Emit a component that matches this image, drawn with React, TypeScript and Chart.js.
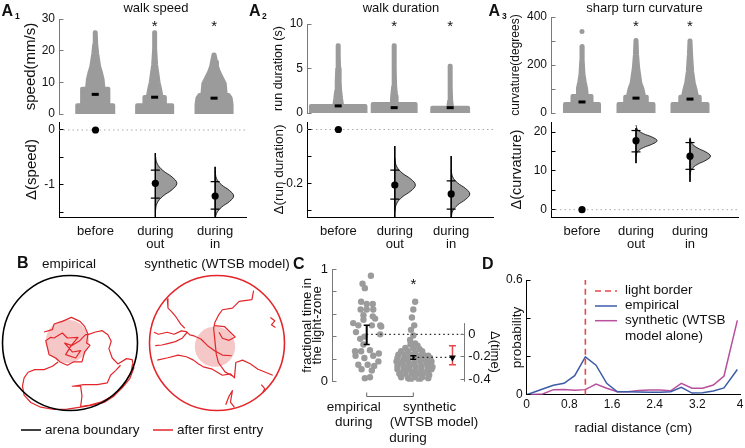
import React, { useEffect, useRef } from 'react';
import { Chart, registerables } from 'chart.js';

Chart.register(...registerables);

const FONT = "'Liberation Sans', Arial, Helvetica, sans-serif";
Chart.defaults.font.family = FONT;
Chart.defaults.color = '#111';

// ======================= DATA =======================
const CAT_LABELS = [['before'], ['during', 'out'], ['during', 'in']];

// A1 walk speed – swarm silhouettes: value vs half-width (category units)
const A1_BEFORE_V = [0, 2.8, 2.8, 8, 8, 11, 13, 15, 17, 19, 22, 25.8];
const A1_BEFORE_W = [0.303, 0.303, 0.221, 0.221, 0.139, 0.123, 0.098, 0.066, 0.049, 0.033, 0.016, 0.008];
const A1_OUT_V = [0, 2.8, 2.8, 5.4, 5.4, 8, 10, 12.3, 15.5, 20.7, 25.8];
const A1_OUT_W = [0.295, 0.295, 0.172, 0.172, 0.115, 0.09, 0.066, 0.049, 0.025, 0.008, 0.008];
const A1_IN_V = [0, 3, 5, 6, 6, 9.6, 11.5, 13.3, 15, 16.5, 18.8];
const A1_IN_W = [0.295, 0.295, 0.28, 0.246, 0.197, 0.18, 0.13, 0.082, 0.049, 0.033, 0.008];
const A1_MEDIANS = [6.2, 5.3, 5.0];
const A1_DELTA = [0, -0.97, -1.2];
const A1_CI_HI = [-0.73, -0.94];
const A1_CI_LO = [-1.24, -1.44];
const A1_DIST_TOP = [-0.42, -0.67];
const A1_DIST_BOT = [-1.58, -1.58];
const A1_VIOL_SPAN = [0.52, 0.45];
const A1_VIOL_W = [0.36, 0.31];

// A2 walk duration
const A2_BEFORE_V = [0, 0.8, 0.8, 1.6, 2.5, 3.5, 5, 6.5, 7.6];
const A2_BEFORE_W = [0.487, 0.487, 0.07, 0.052, 0.035, 0.026, 0.017, 0.009, 0.009];
const A2_OUT_V = [0, 1.0, 1.0, 1.9, 3, 5, 7.6];
const A2_OUT_W = [0.383, 0.383, 0.043, 0.035, 0.017, 0.009, 0.009];
const A2_IN_V = [0, 0.6, 0.6, 1.4, 3, 5.3];
const A2_IN_W = [0.32, 0.32, 0.035, 0.017, 0.009, 0.009];
const A2_OUTLIER_CAT = [2];
const A2_OUTLIER_VAL = [10.4];
const A2_MEDIANS = [0.8, 0.6, 0.6];
const A2_DELTA = [0, -0.205, -0.238];
const A2_CI_HI = [-0.15, -0.19];
const A2_CI_LO = [-0.257, -0.294];
const A2_DIST_TOP = [-0.061, -0.098];
const A2_DIST_BOT = [-0.323, -0.323];
const A2_VIOL_SPAN = [0.1, 0.09];
const A2_VIOL_W = [0.365, 0.33];

// A3 sharp turn curvature
const A3_BEFORE_V = [0, 37, 37, 71, 71, 104, 130, 160, 220, 278];
const A3_BEFORE_W = [0.315, 0.315, 0.176, 0.176, 0.09, 0.074, 0.05, 0.028, 0.012, 0.009];
const A3_OUT_V = [0, 37, 37, 68, 68, 100, 125, 187, 243, 304];
const A3_OUT_W = [0.324, 0.324, 0.2, 0.2, 0.15, 0.12, 0.08, 0.04, 0.02, 0.009];
const A3_IN_V = [0, 37, 37, 68, 68, 100, 125, 173, 243, 302];
const A3_IN_W = [0.324, 0.324, 0.18, 0.18, 0.13, 0.1, 0.07, 0.04, 0.02, 0.009];
const A3_OUTLIER_CAT = [1];
const A3_OUTLIER_VAL = [340];
const A3_MEDIANS = [46, 62, 58];
const A3_DELTA = [0, 17.8, 13.8];
const A3_CI_HI = [20.4, 17.3];
const A3_CI_LO = [14.9, 10.4];
const A3_DIST_TOP = [21, 18.3];
const A3_DIST_BOT = [12, 7.2];
const A3_VIOL_SPAN = [4, 4.8];
const A3_VIOL_W = [0.39, 0.38];

// violin (bootstrap distribution) outline template: relative position / relative width
const VIOL_T = [-1, -0.7, -0.45, -0.22, 0, 0.22, 0.45, 0.7, 1];
const VIOL_SHAPE = [0, 0.08, 0.35, 0.78, 1, 0.78, 0.35, 0.08, 0];

// B trajectories (arena picture frame)
const B_EMP_ARENA = [208, 205, 203]; // cx, cy, r
const B_EMP_ZONE = [200, 200, 65];
const B_EMP_PATHS = [
  [[130, 172], [155, 165], [160, 148], [185, 140], [212, 128], [238, 140], [252, 155], [262, 178], [258, 205], [268, 212], [252, 232], [244, 262], [218, 262], [200, 272], [178, 262], [165, 250], [145, 240], [140, 218], [135, 198], [150, 188], [160, 190], [185, 175], [200, 190], [232, 188], [212, 212], [192, 205], [215, 232], [240, 228], [225, 250], [195, 240], [210, 215], [235, 200], [255, 180], [262, 180]],
  [[262, 180], [285, 172], [305, 168], [322, 180], [332, 200], [325, 222], [335, 250], [352, 268], [378, 252], [395, 255], [400, 280], [388, 312], [365, 340], [335, 365], [300, 383], [268, 392], [240, 396], [244, 365], [240, 335], [215, 335], [250, 330], [290, 330], [320, 325], [330, 302], [345, 288], [360, 272]],
  [[172, 262], [155, 275], [130, 285], [102, 285], [82, 293], [70, 310], [65, 335], [70, 362], [90, 384], [120, 398], [160, 405], [200, 404], [240, 398], [275, 392], [310, 384], [340, 365], [362, 342], [378, 318], [392, 292], [396, 268]],
];
const B_SYN_ARENA = [246, 204, 201];
const B_SYN_ZONE = [240, 215, 60];
const B_SYN_PATHS = [
  [[98, 72], [100, 100], [112, 112], [125, 128], [138, 148], [150, 160]],
  [[58, 172], [72, 178], [98, 172], [118, 178], [140, 168], [155, 170], [165, 180], [178, 183], [198, 192], [218, 212], [240, 228], [262, 240], [290, 242]],
  [[62, 212], [82, 210], [102, 205], [122, 200], [142, 190], [157, 172]],
  [[355, 48], [350, 75], [312, 80], [292, 100], [262, 105], [250, 122], [240, 142], [236, 160], [240, 200], [244, 238], [250, 262], [270, 290], [292, 302]],
  [[238, 152], [268, 155], [300, 186], [282, 196], [262, 190], [252, 172]],
  [[68, 255], [100, 248], [130, 240], [155, 245], [176, 255], [190, 266], [205, 275], [232, 282], [262, 300], [286, 296], [298, 308], [302, 262], [322, 255], [345, 266], [368, 282], [392, 292], [412, 300]],
  [[405, 128], [418, 138], [408, 150], [420, 158]],
  [[272, 388], [282, 362], [292, 346], [286, 380], [298, 396]],
  [[378, 328], [388, 340], [382, 352]],
];

// C fractional time in light zone
const C_EMP_VAL = [0.94, 0.87, 0.83, 0.71, 0.69, 0.69, 0.64, 0.64, 0.64, 0.59, 0.58, 0.56, 0.52, 0.55, 0.5, 0.5, 0.5, 0.44, 0.42, 0.38, 0.4, 0.33, 0.27, 0.27, 0.28, 0.25, 0.23, 0.21, 0.23, 0.18, 0.15, 0.15, 0.14, 0.11, 0.1, 0.04, 0.03, 0.49];
const C_EMP_JIT = [0.09, -0.09, -0.04, -0.12, 0, 0.13, -0.13, 0, 0.14, -0.07, 0.13, 0.18, -0.29, -0.07, -0.18, 0.11, 0.29, -0.23, 0.29, -0.14, -0.05, -0.07, -0.25, -0.12, 0.07, 0.26, -0.24, -0.05, 0.14, 0.25, -0.18, 0.02, 0.16, -0.11, 0.11, 0.07, -0.04, 0.31];
const C_SYN_VAL = [0.71, 0.64, 0.57, 0.5, 0.46, 0.41, 0.37, 0.34,
  0.33, 0.32, 0.3, 0.3, 0.29, 0.27, 0.27, 0.26, 0.27,
  0.24, 0.24, 0.24, 0.23, 0.24, 0.23,
  0.21, 0.2, 0.21, 0.21, 0.2, 0.21,
  0.18, 0.17, 0.18, 0.17, 0.18, 0.17, 0.18,
  0.14, 0.14, 0.14, 0.14, 0.14, 0.14, 0.13,
  0.11, 0.1, 0.11, 0.1, 0.11, 0.1, 0.11,
  0.07, 0.07, 0.07, 0.07, 0.07, 0.06,
  0.04, 0.03, 0.04, 0.04, 0.03,
  0.01, 0.01];
const C_SYN_JIT = [0.04, 0, -0.03, 0.02, -0.05, 0, -0.07, 0.04,
  -0.06, 0.09, -0.17, 0, 0.13, -0.26, -0.11, 0.04, 0.19,
  -0.32, -0.19, -0.06, 0.09, 0.21, 0.32,
  -0.34, -0.21, -0.11, 0.13, 0.26, 0.36,
  -0.36, -0.24, -0.11, 0.02, 0.15, 0.28, 0.39,
  -0.34, -0.21, -0.09, 0.04, 0.17, 0.3, 0.41,
  -0.34, -0.21, -0.09, 0.04, 0.17, 0.3, 0.39,
  -0.3, -0.17, -0.04, 0.09, 0.21, 0.34,
  -0.26, -0.11, 0.04, 0.19, 0.32,
  -0.06, 0.13];
const C_MEANS = [0.42, 0.215];
const C_CI_LO = [0.33, 0.2];
const C_CI_HI = [0.5, 0.23];
const C_DELTA = -0.205;
const C_DELTA_CI = [-0.1, -0.27];

// D radial distribution
const D_X = [0, 0.3, 0.5, 0.7, 0.9, 1.1, 1.3, 1.5, 1.7, 1.9, 2.1, 2.3, 2.5, 2.7, 2.9, 3.1, 3.3, 3.5, 3.7, 3.95];
const D_EMPIRICAL = [0.0, 0.03, 0.05, 0.06, 0.1, 0.198, 0.155, 0.06, 0.016, 0.016, 0.014, 0.013, 0.013, 0.016, 0.039, 0.009, 0.011, 0.02, 0.036, 0.132];
const D_SYNTHETIC = [0.0, 0.004, 0.027, 0.028, 0.024, 0.027, 0.056, 0.034, 0.016, 0.016, 0.022, 0.025, 0.025, 0.021, 0.06, 0.034, 0.034, 0.051, 0.098, 0.389];
const D_LIGHT_BORDER = 1.1;
const D_X_TICKS = [0, 0.8, 1.6, 2.4, 3.2, 4];

// ======================= STYLE / HELPERS =======================
const GRAY = '#9b9b9b';
const AXG = '#7a7a7a';
const RED = '#e3262b';
const DRED = '#e8474c';
const BLUE = '#3d5ca8';
const MAGENTA = '#b8509e';

type P = { x: number; y: number };
const pt = (x: number, y: number): P => ({ x, y });

function outline(cat: number, v: number[], w: number[]): P[] {
  const L = v.map((val, i) => pt(cat - w[i], val));
  const R = v.map((val, i) => pt(cat + w[i], val)).reverse();
  return L.concat(R);
}
function violin(cat: number, mean: number, span: number, width: number): P[] {
  return VIOL_T.map((t, k) => pt(cat + width * VIOL_SHAPE[k], mean - t * span));
}

function base(pad: any) {
  return {
    animation: false,
    responsive: false,
    maintainAspectRatio: false,
    events: [],
    layout: { padding: pad },
  };
}

function yAxis(o: any) {
  return {
    type: 'linear',
    position: o.position || 'left',
    min: o.min,
    max: o.max,
    afterBuildTicks: (s: any) => {
      s.ticks = o.ticks.map((v: number) => ({ value: v }));
    },
    afterFit: (s: any) => {
      s.width = o.width;
      s.paddingTop = 0; s.paddingBottom = 0; s.paddingLeft = 0; s.paddingRight = 0;
    },
    grid: { display: false, drawTicks: false },
    border: { display: o.border !== false, color: o.color, width: 1 },
    ticks: {
      padding: 4,
      autoSkip: false,
      color: '#111',
      font: { size: o.tickSize || 12 },
      callback: (v: number) => (o.labels.includes(v) ? String(v) : ''),
    },
    title: o.title
      ? { display: true, text: o.title, color: '#111', font: { size: o.titleSize, lineHeight: o.titleLH || 1.2 }, padding: { top: o.titlePad, bottom: 0 } }
      : { display: false },
  };
}

function inTicks(axes: any[]) {
  return {
    id: 'inTicks',
    afterDatasetsDraw(chart: any) {
      const ctx = chart.ctx;
      const ca = chart.chartArea;
      axes.forEach((a) => {
        const s = chart.scales[a.id];
        if (!s) return;
        const x0 = Math.floor(a.side === 'right' ? ca.right : ca.left) + 0.5;
        const dir = a.side === 'right' ? -1 : 1;
        ctx.save();
        ctx.strokeStyle = a.color;
        ctx.lineWidth = 1;
        if (a.line) {
          ctx.beginPath();
          ctx.moveTo(x0, s.getPixelForValue(a.line[0]));
          ctx.lineTo(x0, s.getPixelForValue(a.line[1]));
          ctx.stroke();
        }
        s.ticks.forEach((t: any) => {
          const y = Math.floor(s.getPixelForValue(t.value)) + 0.5;
          ctx.beginPath();
          ctx.moveTo(x0, y);
          ctx.lineTo(x0 + dir * (a.len || 4), y);
          ctx.stroke();
        });
        ctx.restore();
      });
    },
  };
}

function stars(items: { x: number; y: number }[], size = 15) {
  return {
    id: 'stars',
    afterDraw(chart: any) {
      const ctx = chart.ctx;
      ctx.save();
      ctx.fillStyle = '#111';
      ctx.font = `${size}px ${FONT}`;
      ctx.textAlign = 'center';
      ctx.textBaseline = 'middle';
      items.forEach((it) => {
        const px = chart.scales.x.getPixelForValue(it.x);
        const py = chart.scales.y.getPixelForValue(it.y);
        ctx.fillText('*', px, py + 0.22 * size);
      });
      ctx.restore();
    },
  };
}

function topConfig(p: any) {
  const datasets: any[] = [
    {
      data: p.medians.map((m: number, i: number) => pt(i + 1, m)),
      showLine: false, pointStyle: 'line', pointRadius: 3.5, pointBorderWidth: 3,
      pointBorderColor: '#000', pointBackgroundColor: '#000',
    },
  ];
  if (p.outCat) {
    datasets.push({
      data: p.outCat.map((c: number, i: number) => pt(c, p.outVal[i])),
      showLine: false, pointRadius: 2.5, pointBorderWidth: 0, pointBackgroundColor: GRAY,
    });
  }
  p.profiles.forEach((pr: any, i: number) =>
    datasets.push({
      data: outline(i + 1, pr[0], pr[1]),
      fill: 'origin', backgroundColor: GRAY, borderColor: GRAY, borderWidth: 4,
      borderJoinStyle: 'round', borderCapStyle: 'round', pointRadius: 0, tension: 0,
    })
  );
  return {
    type: 'line',
    data: { datasets },
    options: {
      ...base({ top: p.padTop, bottom: p.padBottom, left: 0, right: p.padRight }),
      plugins: { legend: { display: false }, tooltip: { enabled: false } },
      scales: {
        x: { type: 'linear', display: false, min: p.xMin, max: p.xMax },
        y: yAxis({ min: p.yMin, max: p.yMax, ticks: p.ticks, labels: p.labels, width: p.yWidth, color: AXG, title: p.title, titleSize: p.titleSize, titlePad: p.titlePad }),
      },
    },
    plugins: [inTicks([{ id: 'y', side: 'left', color: AXG }]), stars(p.stars)],
  };
}

function bottomConfig(p: any) {
  const datasets: any[] = [];
  datasets.push({
    data: p.delta.map((d: number, i: number) => pt(i + 1, d)),
    showLine: false, pointRadius: 3.6, pointBackgroundColor: '#000', pointBorderColor: '#000', pointBorderWidth: 0,
  });
  const ci: P[] = [];
  p.ciHi.forEach((h: number, i: number) => { ci.push(pt(i + 2, h)); ci.push(pt(i + 2, p.ciLo[i])); });
  datasets.push({ data: ci, showLine: false, pointStyle: 'line', pointRadius: 4.5, pointBorderWidth: 1.2, pointBorderColor: '#000' });
  p.distTop.forEach((t: number, i: number) => {
    datasets.push({ data: [pt(i + 2, t), pt(i + 2, p.distBot[i])], borderColor: '#000', borderWidth: 1, pointRadius: 0 });
  });
  p.violSpan.forEach((s: number, i: number) => {
    datasets.push({
      data: violin(i + 2, p.delta[i + 1], s, p.violW[i]),
      fill: 'shape', backgroundColor: GRAY, borderColor: '#000', borderWidth: 0.8, pointRadius: 0, tension: 0.4,
    });
  });
  datasets.push({
    data: [pt(p.xMin, 0), pt(p.xMax, 0)],
    borderColor: '#aaa', borderWidth: 1, borderDash: [1.5, 3], pointRadius: 0,
  });
  return {
    type: 'line',
    data: { datasets },
    options: {
      ...base({ top: p.padTop, bottom: 0, left: 0, right: p.padRight }),
      plugins: { legend: { display: false }, tooltip: { enabled: false } },
      scales: {
        x: {
          type: 'linear', min: p.xMin, max: p.xMax,
          afterBuildTicks: (s: any) => { s.ticks = [1, 2, 3].map((v) => ({ value: v })); },
          afterFit: (s: any) => { s.height = 37; s.paddingLeft = 0; s.paddingRight = 0; s.paddingTop = 0; s.paddingBottom = 0; },
          grid: { display: false, drawTicks: false },
          border: { display: true, color: '#000', width: 1 },
          ticks: { padding: 8, autoSkip: false, maxRotation: 0, color: '#111', font: { size: 13, lineHeight: 1.0 }, callback: (v: number) => CAT_LABELS[v - 1] },
        },
        y: yAxis({ min: p.yMin, max: p.yMax, ticks: p.ticks, labels: p.labels, width: p.yWidth, color: '#000', title: p.title, titleSize: p.titleSize, titlePad: p.titlePad }),
      },
    },
    plugins: [inTicks([{ id: 'y', side: 'left', color: '#000' }])],
  };
}

function arenaPlugin(arena: number[], zone: number[], ring: string) {
  return {
    id: 'arena',
    beforeDatasetsDraw(chart: any) {
      const { x, y } = chart.scales;
      const ctx = chart.ctx;
      const zr = Math.abs(x.getPixelForValue(zone[0] + zone[2]) - x.getPixelForValue(zone[0]));
      ctx.save();
      ctx.fillStyle = '#f6c7c7';
      ctx.beginPath();
      ctx.arc(x.getPixelForValue(zone[0]), y.getPixelForValue(zone[1]), zr, 0, Math.PI * 2);
      ctx.fill();
      ctx.restore();
    },
    afterDatasetsDraw(chart: any) {
      const { x, y } = chart.scales;
      const ctx = chart.ctx;
      const r = Math.abs(x.getPixelForValue(arena[0] + arena[2]) - x.getPixelForValue(arena[0]));
      ctx.save();
      ctx.strokeStyle = ring;
      ctx.lineWidth = 1.6;
      ctx.beginPath();
      ctx.arc(x.getPixelForValue(arena[0]), y.getPixelForValue(arena[1]), r, 0, Math.PI * 2);
      ctx.stroke();
      ctx.restore();
    },
  };
}

function arenaConfig(paths: number[][][], arena: number[], zone: number[], ring: string, px: number) {
  const half = (arena[2] * (px / 2)) / 67.5;
  return {
    type: 'line',
    data: {
      datasets: paths.map((path) => ({
        data: path.map(([a, b]) => pt(a, b)),
        borderColor: RED, borderWidth: 1.2, pointRadius: 0, tension: 0, borderJoinStyle: 'round',
      })),
    },
    options: {
      ...base(0),
      plugins: { legend: { display: false }, tooltip: { enabled: false } },
      scales: {
        x: { type: 'linear', display: false, min: arena[0] - half, max: arena[0] + half },
        y: { type: 'linear', display: false, reverse: true, min: arena[1] - half, max: arena[1] + half },
      },
    },
    plugins: [arenaPlugin(arena, zone, ring)],
  };
}

const C_XMIN = 0.255;
const C_XMAX = 3.094;
const C_DELTA_POS = 2.84;

function bracketPlugin() {
  return {
    id: 'bracket',
    afterDraw(chart: any) {
      const ctx = chart.ctx;
      const x = chart.scales.x;
      const yb = Math.floor(chart.chartArea.bottom + 15) + 0.5;
      const x1 = x.getPixelForValue(1);
      const x2 = x.getPixelForValue(2);
      ctx.save();
      ctx.strokeStyle = '#666';
      ctx.lineWidth = 1;
      ctx.beginPath();
      ctx.moveTo(x1, yb - 4);
      ctx.lineTo(x1, yb);
      ctx.lineTo(x2, yb);
      ctx.lineTo(x2, yb - 4);
      ctx.stroke();
      ctx.restore();
    },
  };
}

function cConfig() {
  const caps: P[] = [];
  C_MEANS.forEach((_m, i) => { caps.push(pt(i + 1, C_CI_LO[i])); caps.push(pt(i + 1, C_CI_HI[i])); });
  const datasets: any[] = [
    { data: [pt(C_DELTA_POS, C_DELTA)], yAxisID: 'y2', showLine: false, pointStyle: 'triangle', rotation: 180, pointRadius: 4, pointBackgroundColor: '#000', pointBorderColor: '#000', pointBorderWidth: 0 },
    { data: C_DELTA_CI.map((v) => pt(C_DELTA_POS, v)), yAxisID: 'y2', showLine: false, pointStyle: 'line', pointRadius: 3.5, pointBorderWidth: 1.5, pointBorderColor: DRED },
    { data: C_DELTA_CI.map((v) => pt(C_DELTA_POS, v)), yAxisID: 'y2', borderColor: DRED, borderWidth: 1.5, pointRadius: 0 },
    { data: caps, showLine: false, pointStyle: 'line', pointRadius: 3, pointBorderWidth: 1.5, pointBorderColor: '#000' },
    { data: [pt(1, C_CI_LO[0]), pt(1, C_CI_HI[0])], borderColor: '#000', borderWidth: 2, pointRadius: 0 },
    { data: [pt(2, C_CI_LO[1]), pt(2, C_CI_HI[1])], borderColor: '#000', borderWidth: 2, pointRadius: 0 },
    { data: [pt(1, 0), pt(C_XMAX, 0)], yAxisID: 'y2', borderColor: '#222', borderWidth: 1.2, borderDash: [1.5, 3], pointRadius: 0 },
    { data: [pt(2, C_DELTA), pt(C_DELTA_POS, C_DELTA)], yAxisID: 'y2', borderColor: '#222', borderWidth: 1.2, borderDash: [1.5, 3], pointRadius: 0 },
    { data: C_SYN_VAL.map((v, i) => pt(2 + C_SYN_JIT[i], v)), showLine: false, pointRadius: 3.2, pointBorderWidth: 0, pointBackgroundColor: GRAY },
    { data: C_EMP_VAL.map((v, i) => pt(1 + C_EMP_JIT[i], v)), showLine: false, pointRadius: 3.2, pointBorderWidth: 0, pointBackgroundColor: GRAY },
  ];
  return {
    type: 'line',
    data: { datasets },
    options: {
      ...base({ top: 14, bottom: 23.3, left: 0, right: 0 }),
      plugins: { legend: { display: false }, tooltip: { enabled: false } },
      scales: {
        x: { type: 'linear', display: false, min: C_XMIN, max: C_XMAX },
        y: yAxis({ min: 0, max: 1, ticks: [0, 0.2, 0.4, 0.6, 0.8, 1], labels: [0, 1], width: 42, color: AXG, tickSize: 13, title: ['fractional time in', 'the light-zone'], titleSize: 13, titleLH: 0.8, titlePad: 12.3 }),
        y2: yAxis({ min: -0.42, max: 0.58, position: 'right', ticks: [0, -0.2, -0.4], labels: [0, -0.2, -0.4], width: 40.7, color: AXG, border: false, tickSize: 13 }),
      },
    },
    plugins: [
      inTicks([{ id: 'y', side: 'left', color: AXG }, { id: 'y2', side: 'right', color: AXG, line: [0.1, -0.42] }]),
      stars([{ x: 2, y: 0.89 }]),
      bracketPlugin(),
    ],
  };
}

function dConfig() {
  return {
    type: 'line',
    data: {
      datasets: [
        { data: [pt(D_LIGHT_BORDER, 0), pt(D_LIGHT_BORDER, 0.6)], borderColor: DRED, borderWidth: 1.6, borderDash: [6, 4], pointRadius: 0 },
        { data: D_X.map((x, i) => pt(x, D_EMPIRICAL[i])), borderColor: BLUE, borderWidth: 1.5, pointRadius: 0, tension: 0 },
        { data: D_X.map((x, i) => pt(x, D_SYNTHETIC[i])), borderColor: MAGENTA, borderWidth: 1.5, pointRadius: 0, tension: 0 },
      ],
    },
    options: {
      ...base({ top: 10, bottom: 0, left: 0, right: 5 }),
      plugins: { legend: { display: false }, tooltip: { enabled: false } },
      scales: {
        x: {
          type: 'linear', min: 0, max: 4,
          afterBuildTicks: (s: any) => { s.ticks = D_X_TICKS.map((v) => ({ value: v })); },
          afterFit: (s: any) => { s.height = 45.2; s.paddingLeft = 0; s.paddingRight = 0; s.paddingTop = 0; s.paddingBottom = 0; },
          grid: { display: false, drawTicks: false },
          border: { display: true, color: '#000', width: 1 },
          ticks: { padding: 3, autoSkip: false, maxRotation: 0, color: '#111', font: { size: 12 }, callback: (v: number) => String(v) },
          title: { display: true, text: 'radial distance (cm)', color: '#111', font: { size: 13.5 }, padding: { top: 0, bottom: 3.6 } },
        },
        y: yAxis({ min: 0, max: 0.6, ticks: [0, 0.2, 0.4, 0.6], labels: [0, 0.6], width: 46.7, color: '#000', title: 'probability', titleSize: 13.5, titlePad: 28.9 }),
      },
    },
    plugins: [inTicks([{ id: 'y', side: 'left', color: '#000' }])],
  };
}

// ======================= LAYOUT =======================
const CHARTS: any[] = [
  {
    key: 'a1t', left: 0, top: 0, width: 252, height: 122,
    make: () => topConfig({
      profiles: [[A1_BEFORE_V, A1_BEFORE_W], [A1_OUT_V, A1_OUT_W], [A1_IN_V, A1_IN_W]], medians: A1_MEDIANS,
      xMin: 0.39, xMax: 3.521, yMin: 0, yMax: 30, ticks: [0, 10, 20, 30], labels: [0, 10, 20, 30],
      yWidth: 59, padTop: 19, padBottom: 8, padRight: 2, title: 'speed(mm/s)', titleSize: 15, titlePad: 22,
      stars: [{ x: 2, y: 28.7 }, { x: 3, y: 28.7 }],
    }),
  },
  {
    key: 'a1b', left: 0, top: 116, width: 252, height: 138,
    make: () => bottomConfig({
      delta: A1_DELTA, ciHi: A1_CI_HI, ciLo: A1_CI_LO, distTop: A1_DIST_TOP, distBot: A1_DIST_BOT, violSpan: A1_VIOL_SPAN, violW: A1_VIOL_W,
      xMin: 0.39, xMax: 3.521, yMin: -1.582, yMax: 0.145, ticks: [0, -0.5, -1, -1.5], labels: [0, -1],
      yWidth: 59, padTop: 6, padRight: 2, title: 'Δ(speed)', titleSize: 15, titlePad: 23,
    }),
  },
  {
    key: 'a2t', left: 250, top: 0, width: 249, height: 121,
    make: () => topConfig({
      profiles: [[A2_BEFORE_V, A2_BEFORE_W], [A2_OUT_V, A2_OUT_W], [A2_IN_V, A2_IN_W]], medians: A2_MEDIANS,
      outCat: A2_OUTLIER_CAT, outVal: A2_OUTLIER_VAL,
      xMin: 0.443, xMax: 3.747, yMin: 0, yMax: 10, ticks: [0, 5, 10], labels: [0, 5, 10],
      yWidth: 57, padTop: 24, padBottom: 8, padRight: 2, title: 'run duration (s)', titleSize: 12.5, titlePad: 21.5,
      stars: [{ x: 2, y: 10.1 }, { x: 3, y: 10.1 }],
    }),
  },
  {
    key: 'a2b', left: 250, top: 116, width: 249, height: 138,
    make: () => bottomConfig({
      delta: A2_DELTA, ciHi: A2_CI_HI, ciLo: A2_CI_LO, distTop: A2_DIST_TOP, distBot: A2_DIST_BOT, violSpan: A2_VIOL_SPAN, violW: A2_VIOL_W,
      xMin: 0.443, xMax: 3.747, yMin: -0.323, yMax: 0.0277, ticks: [0, -0.1, -0.2, -0.3], labels: [0, -0.2],
      yWidth: 57, padTop: 6, padRight: 2, title: 'Δ(run duration)', titleSize: 13.5, titlePad: 21.6,
    }),
  },
  {
    key: 'a3t', left: 492, top: 0, width: 253, height: 121,
    make: () => topConfig({
      profiles: [[A3_BEFORE_V, A3_BEFORE_W], [A3_OUT_V, A3_OUT_W], [A3_IN_V, A3_IN_W]], medians: A3_MEDIANS,
      outCat: A3_OUTLIER_CAT, outVal: A3_OUTLIER_VAL,
      xMin: 0.426, xMax: 3.889, yMin: 0, yMax: 400, ticks: [0, 100, 200, 300, 400], labels: [0, 200, 400],
      yWidth: 59, padTop: 17, padBottom: 8, padRight: 7, title: 'curvature(degrees)', titleSize: 12, titlePad: 16.8,
      stars: [{ x: 2, y: 372 }, { x: 3, y: 372 }],
    }),
  },
  {
    key: 'a3b', left: 492, top: 116, width: 253, height: 138,
    make: () => bottomConfig({
      delta: A3_DELTA, ciHi: A3_CI_HI, ciLo: A3_CI_LO, distTop: A3_DIST_TOP, distBot: A3_DIST_BOT, violSpan: A3_VIOL_SPAN, violW: A3_VIOL_W,
      xMin: 0.426, xMax: 3.889, yMin: -1.88, yMax: 22.6, ticks: [0, 5, 10, 15, 20], labels: [0, 10, 20],
      yWidth: 59, padTop: 6, padRight: 7, title: 'Δ(curvature)', titleSize: 14.5, titlePad: 16,
    }),
  },
  { key: 'be', left: 0, top: 273, width: 140, height: 140, make: () => arenaConfig(B_EMP_PATHS, B_EMP_ARENA, B_EMP_ZONE, '#000', 140) },
  { key: 'bs', left: 147, top: 273, width: 140, height: 140, make: () => arenaConfig(B_SYN_PATHS, B_SYN_ARENA, B_SYN_ZONE, RED, 140) },
  { key: 'c', left: 290, top: 255, width: 215, height: 150, make: cConfig },
  { key: 'd', left: 480, top: 270, width: 265, height: 170, make: dConfig },
];

// text: x, baseline b, size s, anchor a ('c' = centred)
const TEXTS: any[] = [
  { t: 'walk speed', x: 156, b: 12.5, s: 13, a: 'c' },
  { t: 'walk duration', x: 401, b: 12.5, s: 13, a: 'c' },
  { t: 'sharp turn curvature', x: 644.5, b: 12.5, s: 13, a: 'c' },
  { t: 'A', x: 1.5, b: 16.5, s: 16, bold: true },
  { t: '1', x: 15, b: 19, s: 8.5, bold: true },
  { t: 'A', x: 249, b: 16.5, s: 16, bold: true },
  { t: '2', x: 262, b: 19, s: 8.5, bold: true },
  { t: 'A', x: 488.5, b: 16.5, s: 16, bold: true },
  { t: '3', x: 502, b: 19, s: 8.5, bold: true },
  { t: 'B', x: 17, b: 268.3, s: 16, bold: true },
  { t: 'empirical', x: 69, b: 268.5, s: 13.5, a: 'c' },
  { t: 'synthetic (WTSB model)', x: 217, b: 268.5, s: 13.5, a: 'c' },
  { t: 'arena boundary', x: 45, b: 434, s: 13.5 },
  { t: 'after first entry', x: 177, b: 434, s: 13.5 },
  { t: 'C', x: 293, b: 269.3, s: 16, bold: true },
  { t: 'D', x: 482, b: 270, s: 16, bold: true },
  { t: 'empirical', x: 353.7, b: 411, s: 13.5, a: 'c' },
  { t: 'during', x: 353.7, b: 426.5, s: 13.5, a: 'c' },
  { t: 'synthetic', x: 429.7, b: 411, s: 13.5, a: 'c' },
  { t: '(WTSB model)', x: 434, b: 426.5, s: 13.5, a: 'c' },
  { t: 'during', x: 408, b: 442.5, s: 13.5, a: 'c' },
  { t: 'Δ(time)', x: 495, y: 352, s: 13, rot: 90 },
  { t: 'light border', x: 625, b: 294.5, s: 13.5 },
  { t: 'empirical', x: 625, b: 309.5, s: 13.5 },
  { t: 'synthetic (WTSB', x: 625, b: 324.5, s: 13.5 },
  { t: 'model alone)', x: 625, b: 340, s: 13.5 },
];

function ChartBox({ left, top, width, height, make }: any) {
  const ref = useRef<HTMLCanvasElement>(null);
  useEffect(() => {
    const chart = new Chart(ref.current as HTMLCanvasElement, make());
    return () => chart.destroy();
  }, []);
  return <canvas ref={ref} width={width} height={height} style={{ position: 'absolute', left, top, width, height }} />;
}

function Label({ t }: any) {
  const s = t.s || 13.5;
  const style: any = {
    position: 'absolute', fontSize: s, lineHeight: `${s}px`, whiteSpace: 'nowrap',
    fontWeight: t.bold ? 'bold' : 'normal', fontFamily: FONT, color: '#111',
  };
  if (t.rot) {
    style.left = t.x; style.top = t.y; style.transform = `translate(-50%, -50%) rotate(${t.rot}deg)`;
  } else {
    style.left = t.x; style.top = t.b - 0.8465 * s;
    if (t.a === 'c') style.transform = 'translateX(-50%)';
  }
  return <div style={style}>{t.t}</div>;
}

export default function App() {
  return (
    <div style={{ position: 'absolute', left: 0, top: 0, width: 745, height: 448, background: '#fff', overflow: 'hidden', fontFamily: FONT }}>
      {CHARTS.map((c) => <ChartBox key={c.key} {...c} />)}
      <svg width={745} height={448} style={{ position: 'absolute', left: 0, top: 0, pointerEvents: 'none' }}>
        <line x1={21} y1={430} x2={41} y2={430} stroke="#000" strokeWidth={1.5} />
        <line x1={153} y1={430} x2={173} y2={430} stroke={RED} strokeWidth={1.5} />
        <line x1={595} y1={291} x2={617} y2={291} stroke={DRED} strokeWidth={1.6} strokeDasharray="6 4" />
        <line x1={595} y1={306} x2={617} y2={306} stroke={BLUE} strokeWidth={1.5} />
        <line x1={595} y1={320.7} x2={617} y2={320.7} stroke={MAGENTA} strokeWidth={1.5} />
      </svg>
      {TEXTS.map((t, i) => <Label key={i} t={t} />)}
    </div>
  );
}
